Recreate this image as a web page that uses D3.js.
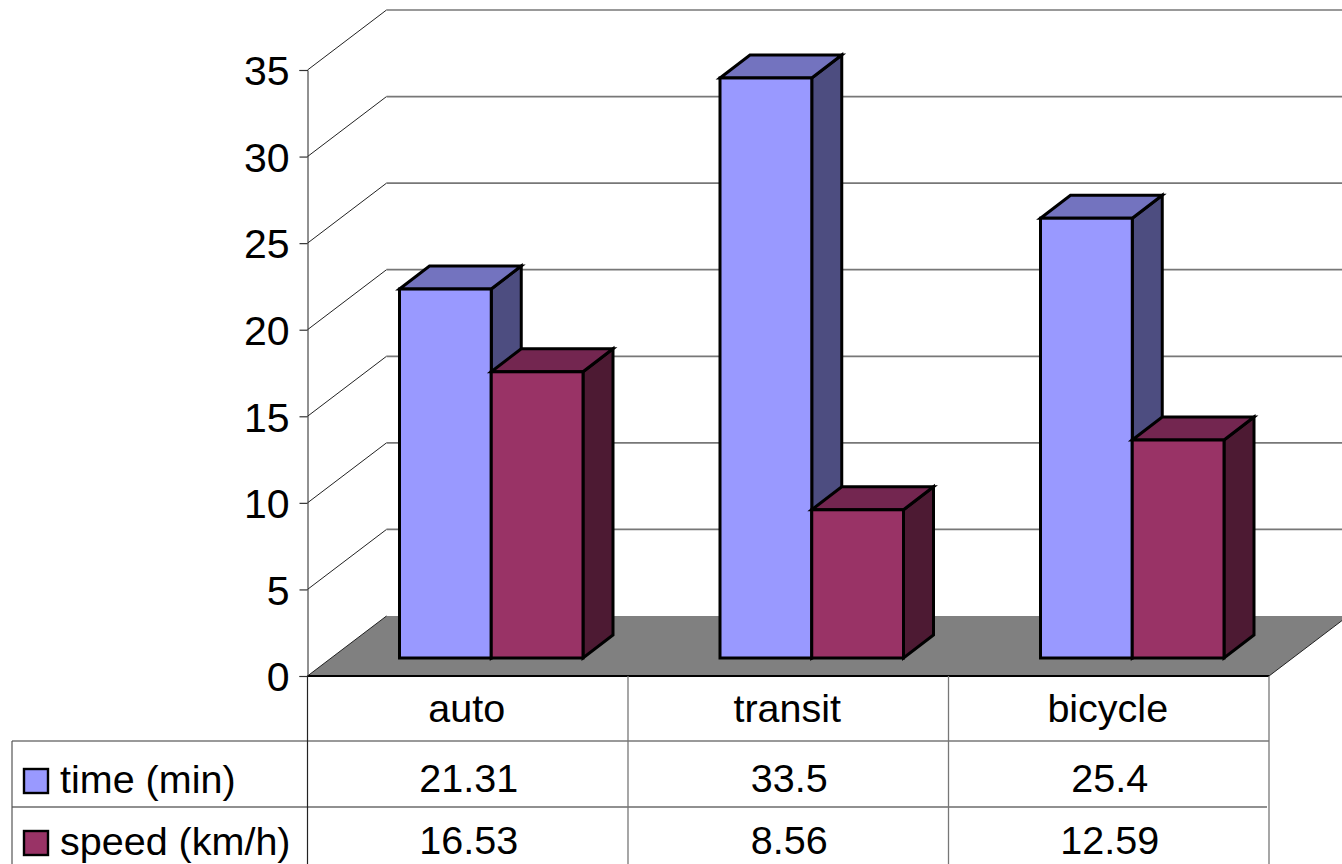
<!DOCTYPE html>
<html>
<head>
<meta charset="utf-8">
<title>Travel time and speed by mode</title>
<script src="https://cdn.jsdelivr.net/npm/d3@7"></script>
<style>
  html, body { margin: 0; padding: 0; background: #fff; overflow: hidden; }
  svg { display: block; }
  text { font-family: "Liberation Sans", Arial, sans-serif; font-size: 39.5px; fill: #000; }
</style>
</head>
<body>
<script>
// Data
const categories = ["auto", "transit", "bicycle"];
const seriesNames = ["time (min)", "speed (km/h)"];
const timeMin = [21.31, 33.5, 25.4];
const speedKmh = [16.53, 8.56, 12.59];
const yTicks = [0, 5, 10, 15, 20, 25, 30, 35];
const fills = ["#9999ff", "#993366"];
const tops = ["#7373bf", "#732650"];
const sides = ["#4d4d80", "#4d1a33"];

const width = 1342, height = 864;
const svg = d3.select("body").append("svg").attr("width", width).attr("height", height);

// Front plane scales and the oblique projection used for depth
const x = d3.scaleBand().domain(categories).range([307.5, 1269]);
const y = d3.scaleLinear().domain([0, 35]).range([676, 70]);
const wallDx = 79, wallDy = -60;          // front plane to back wall
const barLift = 18, barNudge = 23.5;      // front plane to front of the bars
const barDx = 30, barDy = -23;            // depth of a single bar
const groupW = 183.5;
const sub = d3.scaleBand().domain(d3.range(seriesNames.length)).range([0, groupW]);

const line = (g, x1, y1, x2, y2, stroke, w) => g.append("line")
  .attr("x1", x1).attr("y1", y1).attr("x2", x2).attr("y2", y2)
  .attr("stroke", stroke).attr("stroke-width", w);

// Back wall gridlines and their returns along the side wall
const grid = svg.append("g");
yTicks.filter(t => t > 0).forEach(t => {
  line(grid, 307.5, y(t), 307.5 + wallDx, y(t) + wallDy, "#222", 1);
  line(grid, 307.5 + wallDx, y(t) + wallDy, width + 2, y(t) + wallDy, "#777", 1.7);
});

// Floor
svg.append("path")
  .attr("d", d3.line()([
    [x.range()[0], y(0)],
    [x.range()[0] + wallDx, y(0) + wallDy],
    [x.range()[1] + wallDx, y(0) + wallDy],
    [x.range()[1], y(0)]
  ]) + "Z")
  .attr("fill", "#808080").attr("stroke", "none");
line(svg, x.range()[0], y(0), x.range()[0] + wallDx, y(0) + wallDy, "#222", 1);
line(svg, x.range()[1], y(0), x.range()[1] + wallDx, y(0) + wallDy, "#222", 1);
line(svg, x.range()[0], y(0), x.range()[1], y(0), "#000", 2);

// Value axis
const axis = svg.append("g").attr("transform", `translate(${x.range()[0]},0)`)
  .call(d3.axisLeft(y).tickValues(yTicks).tickSize(8).tickPadding(10).tickFormat(d3.format("d")));
axis.selectAll("path").attr("stroke", "#222").attr("stroke-width", 1);
axis.selectAll("line").attr("stroke", "#333").attr("stroke-width", 1.2);
axis.selectAll("text").attr("font-size", null).style("font-size", "41px")
  .style("font-family", '"Liberation Sans", Arial, sans-serif').attr("dy", "0.36em");

// Bars: each one is a front face, a top face and a right side face
const barBase = y(0) - barLift;
const barHeight = d3.scaleLinear().domain([0, 35]).range([0, y(0) - y(35)]);
const values = [timeMin, speedKmh];
const bars = svg.append("g").attr("stroke", "#000").attr("stroke-width", 3).attr("stroke-linejoin", "miter");
categories.forEach((c, ci) => {
  const groupX = x(c) + (x.bandwidth() - groupW) / 2 + barNudge;
  values.forEach((vals, si) => {
    const x0 = groupX + sub(si), x1 = x0 + sub.bandwidth();
    const yTop = barBase - barHeight(vals[ci]);
    bars.append("path").attr("fill", sides[si])
      .attr("d", d3.line()([[x1, yTop], [x1 + barDx, yTop + barDy], [x1 + barDx, barBase + barDy], [x1, barBase]]) + "Z");
    bars.append("path").attr("fill", tops[si])
      .attr("d", d3.line()([[x0, yTop], [x0 + barDx, yTop + barDy], [x1 + barDx, yTop + barDy], [x1, yTop]]) + "Z");
    bars.append("rect").attr("fill", fills[si])
      .attr("x", x0).attr("y", yTop).attr("width", x1 - x0).attr("height", barBase - yTop);
  });
});

// Data table under the plot
const table = svg.append("g");
const rowA = 741, rowB = 807, tableLeft = 12;
line(table, tableLeft, rowA, x.range()[1], rowA, "#777", 1.3);
line(table, tableLeft, rowB, x.range()[1] - 2, rowB, "#222", 1.2);
line(table, tableLeft, rowA, tableLeft, height, "#555", 1.2);
line(table, x.range()[0], y(0), x.range()[0], height, "#222", 1.2);
categories.forEach((c, i) => {
  const edge = x(c) + x.bandwidth();
  line(table, edge, y(0), edge, height, "#777", 1.3);
});

const cell = (txt, cx, base) => table.append("text")
  .attr("x", cx).attr("y", base).attr("text-anchor", "middle").text(txt);
const baselines = [792, 854];
categories.forEach((c, i) => {
  const cx = x(c) + x.bandwidth() / 2;
  cell(c, cx - 1, 722);
  values.forEach((vals, si) => cell(String(vals[i]), cx + 1, baselines[si]));
});

// Legend keys sit in the first column of the table
seriesNames.forEach((name, si) => {
  const base = baselines[si] + 1;
  table.append("rect").attr("x", 24).attr("y", base - 24).attr("width", 24).attr("height", 24)
    .attr("fill", fills[si]).attr("stroke", "#000").attr("stroke-width", 2.4);
  table.append("text").attr("x", 60).attr("y", base).text(name);
});
</script>
</body>
</html>
